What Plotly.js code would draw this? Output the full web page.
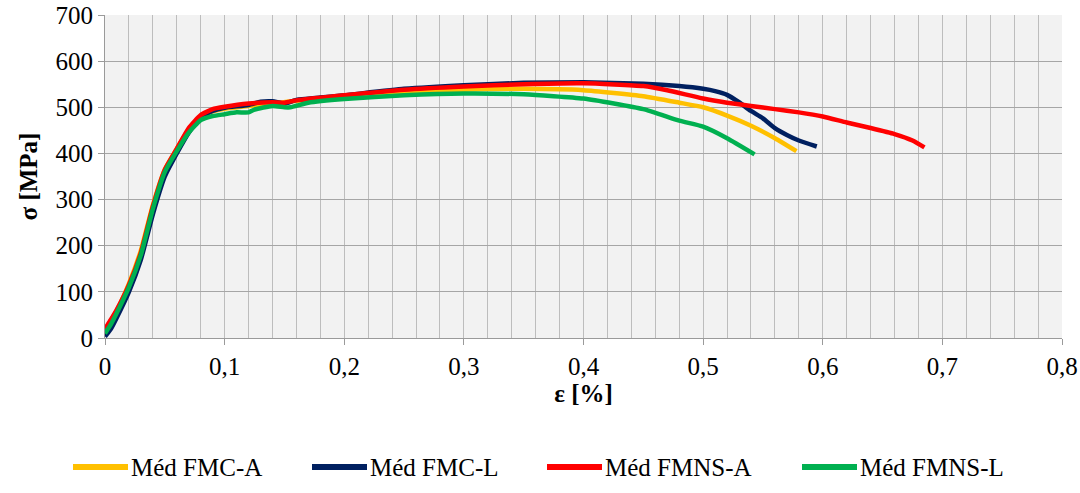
<!DOCTYPE html>
<html>
<head>
<meta charset="utf-8">
<script src="https://cdn.plot.ly/plotly-3.0.1.min.js"></script>
<style>
html,body{margin:0;padding:0;background:#fff;font-family:"Times New Roman","Liberation Serif",serif}
#chart{width:1080px;height:493px}
#chart svg text{font-family:"Times New Roman","Liberation Serif",serif !important;}
</style>
</head>
<body>
<div id="chart"></div>
<script>
// ---- data (strain in %, stress in MPa) ----
var seriesNames = ["Méd FMC-A", "Méd FMC-L", "Méd FMNS-A", "Méd FMNS-L"];
var seriesColors = ["#FFC000", "#002060", "#FF0000", "#00B050"];

var epsFMCA = [0, 0.005, 0.01, 0.02, 0.03, 0.04, 0.05, 0.06, 0.07, 0.08, 0.09, 0.1, 0.12, 0.14, 0.16, 0.2, 0.25, 0.3, 0.35, 0.4, 0.45, 0.48, 0.5, 0.52, 0.54, 0.56, 0.578];
var sigFMCA = [15, 38, 60, 118, 190, 288, 365, 410, 452, 480, 491, 497, 503, 508, 514, 522, 532, 538, 540, 537, 524, 510, 500, 482, 460, 433, 405];

var epsFMCL = [0, 0.005, 0.01, 0.02, 0.03, 0.04, 0.05, 0.06, 0.07, 0.08, 0.09, 0.1, 0.12, 0.13, 0.14, 0.15, 0.16, 0.18, 0.2, 0.25, 0.3, 0.35, 0.4, 0.45, 0.48, 0.5, 0.51, 0.52, 0.53, 0.54, 0.55, 0.56, 0.57, 0.58, 0.595];
var sigFMCL = [3, 20, 45, 100, 170, 268, 350, 400, 445, 478, 492, 499, 505, 512, 513, 508, 516, 521, 526, 540, 548, 553, 554, 551, 546, 540, 535, 527, 511, 492, 476, 455, 440, 428, 415];

var epsFMNSA = [0, 0.005, 0.01, 0.02, 0.03, 0.04, 0.05, 0.06, 0.07, 0.08, 0.09, 0.1, 0.12, 0.14, 0.15, 0.16, 0.2, 0.25, 0.3, 0.35, 0.4, 0.45, 0.47, 0.5, 0.52, 0.54, 0.56, 0.58, 0.6, 0.62, 0.64, 0.66, 0.675, 0.685];
var sigFMNSA = [20, 40, 62, 115, 185, 285, 365, 410, 455, 483, 496, 501, 508, 511, 510, 515, 526, 538, 545, 550, 552, 546, 537, 519, 510, 503, 496, 489, 480, 467, 455, 442, 428, 413];

var epsFMNSL = [0, 0.005, 0.01, 0.02, 0.03, 0.04, 0.05, 0.06, 0.07, 0.08, 0.09, 0.1, 0.11, 0.12, 0.125, 0.14, 0.15, 0.155, 0.17, 0.2, 0.25, 0.3, 0.35, 0.4, 0.45, 0.48, 0.5, 0.52, 0.543];
var sigFMNSL = [10, 30, 55, 110, 180, 280, 360, 405, 445, 472, 481, 485, 489, 489, 495, 503, 500, 500, 510, 518, 526, 530, 528, 519, 496, 471, 458, 433, 398];

var xTickVals = [0, 0.1, 0.2, 0.3, 0.4, 0.5, 0.6, 0.7, 0.8];
var xTickText = ["0", "0,1", "0,2", "0,3", "0,4", "0,5", "0,6", "0,7", "0,8"];
var yTickVals = [0, 100, 200, 300, 400, 500, 600, 700];

var FONT_FAMILY = "Times New Roman, Liberation Serif, serif";
function mkFont() { return {family: FONT_FAMILY, size: 25, color: "#000000"}; }

function buildTraces() {
  var xs = [epsFMCA, epsFMCL, epsFMNSA, epsFMNSL];
  var ys = [sigFMCA, sigFMCL, sigFMNSA, sigFMNSL];
  return seriesNames.map(function (n, i) {
    return {type: "scatter", mode: "lines", name: n, showlegend: false, x: xs[i], y: ys[i],
      line: {color: seriesColors[i], width: 4.5, shape: "spline", smoothing: 0.5}};
  });
}

function buildLayout() {
  var cw = 1080, ch = 493, ml = 105, mr = 18, mt = 15, mb = 155;
  var pw = cw - ml - mr, ph = ch - mt - mb;
  function px2x(p) { return (p - ml) / pw; }
  function py2y(p) { return (ch - mb - p) / ph; }
  var legLineStart = [73, 312, 547, 802];
  var legLen = 55, legY = 467;
  var shp = [], ann = [];
  seriesNames.forEach(function (n, i) {
    shp.push({type: "line", xref: "paper", yref: "paper",
      x0: px2x(legLineStart[i]), x1: px2x(legLineStart[i] + legLen), y0: py2y(legY), y1: py2y(legY),
      line: {color: seriesColors[i], width: 6}});
    ann.push({xref: "paper", yref: "paper", x: px2x(legLineStart[i] + legLen + 1), y: py2y(legY),
      xanchor: "left", yanchor: "middle", text: n, showarrow: false, font: mkFont()});
  });
  return {
    width: cw, height: ch, margin: {l: ml, r: mr, t: mt, b: mb},
    paper_bgcolor: "#ffffff", plot_bgcolor: "#f2f2f2", separators: ", ", font: mkFont(), showlegend: false,
    shapes: shp, annotations: ann,
    xaxis: {range: [0, 0.8], tickvals: xTickVals, ticktext: xTickText,
      showgrid: true, gridcolor: "#bdbdbd",
      minor: {dtick: 0.02, showgrid: true, gridcolor: "#bdbdbd"},
      ticks: "outside", ticklen: 6, tickcolor: "#9a9a9a", showline: true, linecolor: "#9a9a9a", zeroline: false,
      tickfont: mkFont(), title: {text: "<b>ε [%]</b>", font: mkFont(), standoff: 4}},
    yaxis: {range: [0, 700], tickvals: yTickVals, showgrid: true, gridcolor: "#a6a6a6",
      ticks: "outside", ticklen: 6, tickcolor: "#9a9a9a", showline: true, linecolor: "#9a9a9a", zeroline: false,
      tickfont: mkFont(), title: {text: "<b>σ [MPa]</b>", font: mkFont(), standoff: 10}}
  };
}

Plotly.newPlot("chart", buildTraces(), buildLayout(), {displayModeBar: false, staticPlot: true});
</script>
</body>
</html>
